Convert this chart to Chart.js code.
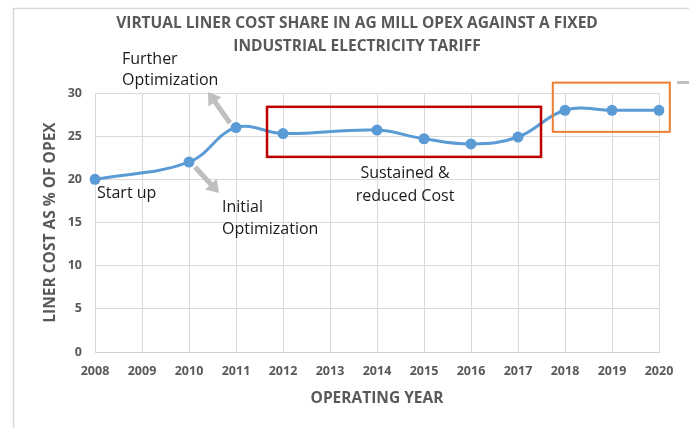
<!DOCTYPE html>
<html>
<head>
<meta charset="utf-8">
<script src="https://cdn.jsdelivr.net/npm/chart.js@4.4.1/dist/chart.umd.min.js"></script>
<style>
html, body { margin: 0; padding: 0; background: #fff; }
#wrap { position: relative; width: 689px; height: 428px; }
</style>
</head>
<body>
<div id="wrap"><canvas id="canvas1" width="689" height="428"></canvas></div>
<script>
// chart values
var years = ["2008", "2009", "2010", "2011", "2012", "2013", "2014", "2015", "2016", "2017", "2018", "2019", "2020"];
var linerCostShare = [20, null, 22, 26, 25.3, null, 25.7, 24.7, 24.1, 24.9, 28, 28, 28];
var yTickValues = [0, 5, 10, 15, 20, 25, 30];
var titleLines = ["VIRTUAL LINER COST SHARE IN AG MILL OPEX AGAINST A FIXED", "INDUSTRIAL ELECTRICITY TARIFF"];
var yAxisTitle = "LINER COST AS % OF OPEX";
var xAxisTitle = "OPERATING YEAR";

var Graphs = {

	font: "'Open Sans', 'DejaVu Sans', sans-serif",
	grey: "#595959",
	blue: "#5b9bd5",

	init: function(){
		var lineGraphValues = Graphs.setLineGraphValues();
		Graphs.generateLineGraph(lineGraphValues);
	},

	setLineGraphValues: function(){
		var lineChartData = {
			labels: years,
			datasets: [{
				label: '',
				data: linerCostShare,
				spanGaps: true,
				fill: false,
				tension: 0.4,
				borderColor: Graphs.blue,
				borderWidth: 3,
				pointRadius: 5.5,
				pointBackgroundColor: Graphs.blue,
				pointBorderColor: Graphs.blue,
				pointBorderWidth: 0
			}]
		};

		return lineChartData;
	},

	arrow: function(ctx, x1, y1, x2, y2){
		var ang = Math.atan2(y2 - y1, x2 - x1);
		var len = Math.sqrt((x2 - x1) * (x2 - x1) + (y2 - y1) * (y2 - y1));
		ctx.save();
		ctx.translate(x1, y1);
		ctx.rotate(ang);
		ctx.fillStyle = "#bfbfbf";
		ctx.beginPath();
		ctx.moveTo(0, -2.5);
		ctx.lineTo(len - 12, -2.5);
		ctx.lineTo(len - 12, -8);
		ctx.lineTo(len, 0);
		ctx.lineTo(len - 12, 8);
		ctx.lineTo(len - 12, 2.5);
		ctx.lineTo(0, 2.5);
		ctx.closePath();
		ctx.fill();
		ctx.restore();
	},

	// frame, title, boxes, arrows and notes drawn on top of the chart
	notes: {
		id: 'notes',
		afterDraw: function(chart){
			var ctx = chart.ctx;
			var x = chart.scales.x, y = chart.scales.y;
			ctx.save();

			// outer frame (only top and left edges show)
			ctx.strokeStyle = "#d9d9d9";
			ctx.lineWidth = 1.5;
			ctx.beginPath();
			ctx.moveTo(689, 8.5);
			ctx.lineTo(13.5, 8.5);
			ctx.lineTo(13.5, 428);
			ctx.stroke();

			// title
			ctx.fillStyle = Graphs.grey;
			ctx.font = "bold 15.5px " + Graphs.font;
			ctx.textAlign = "center";
			ctx.textBaseline = "middle";
			ctx.fillText(titleLines[0], 357, 24);
			ctx.fillText(titleLines[1], 357, 47);

			// red box round the sustained years
			ctx.strokeStyle = "#c00000";
			ctx.lineWidth = 2.5;
			var rx1 = x.getPixelForValue(3.66), rx2 = x.getPixelForValue(9.49);
			var ry1 = y.getPixelForValue(28.4), ry2 = y.getPixelForValue(22.6);
			ctx.strokeRect(rx1, ry1, rx2 - rx1, ry2 - ry1);

			// orange box round the last years
			ctx.strokeStyle = "#ed7d31";
			ctx.lineWidth = 2;
			var ox1 = x.getPixelForValue(9.74), ox2 = x.getPixelForValue(12.23);
			var oy1 = y.getPixelForValue(31.2), oy2 = y.getPixelForValue(25.5);
			ctx.strokeRect(ox1, oy1, ox2 - ox1, oy2 - oy1);

			// little grey dash at the right edge
			ctx.strokeStyle = "#bfbfbf";
			ctx.lineWidth = 3;
			ctx.beginPath();
			ctx.moveTo(677, 82.5);
			ctx.lineTo(689, 82.5);
			ctx.stroke();

			// arrows
			Graphs.arrow(ctx, 230, 123, 208, 92);
			Graphs.arrow(ctx, 195, 167, 219, 193);

			// notes
			ctx.fillStyle = "#1a1a1a";
			ctx.font = "16px " + Graphs.font;
			ctx.textAlign = "left";
			ctx.fillText("Further", 122, 59);
			ctx.fillText("Optimization", 122, 80);
			ctx.fillText("Start up", 97, 193);
			ctx.fillText("Initial", 222, 207);
			ctx.fillText("Optimization", 222, 229);
			ctx.textAlign = "center";
			ctx.fillText("Sustained &", 405, 173);
			ctx.fillText("reduced Cost", 405, 196);

			ctx.restore();
		}
	},

	generateLineGraph: function(graphValues){
		var ctx = document.getElementById("canvas1").getContext("2d");
		window.myLine = new Chart(ctx, {
			type: 'line',
			data: graphValues,
			plugins: [Graphs.notes],
			options: {
				responsive: false,
				animation: false,
				devicePixelRatio: 1,
				layout: {
					padding: { top: 93, right: 30, left: 0, bottom: 0 }
				},
				plugins: {
					legend: { display: false },
					tooltip: { enabled: false },
					title: { display: false }
				},
				scales: {
					x: {
						type: 'category',
						offset: false,
						afterFit: function(scale){ scale.height = 76; },
						grid: { color: "#d9d9d9", drawTicks: false },
						border: { color: "#d0d0d0" },
						ticks: {
							color: Graphs.grey,
							font: { family: Graphs.font, size: 12.5, weight: 'bold' },
							padding: 12,
							maxRotation: 0,
							autoSkip: false
						},
						title: {
							display: true,
							text: xAxisTitle,
							color: Graphs.grey,
							font: { family: Graphs.font, size: 15.5, weight: 'bold' },
							padding: { top: 0, bottom: 20 }
						}
					},
					y: {
						min: 0,
						max: 30,
						afterFit: function(scale){ scale.width = 95; },
						afterBuildTicks: function(scale){
							scale.ticks = yTickValues.map(function(v){ return { value: v }; });
						},
						grid: { color: "#d9d9d9", drawTicks: false },
						border: { color: "#d9d9d9" },
						ticks: {
							color: Graphs.grey,
							font: { family: Graphs.font, size: 12.5, weight: 'bold' },
							padding: 13
						},
						title: {
							display: true,
							text: yAxisTitle,
							color: Graphs.grey,
							font: { family: Graphs.font, size: 15.5, weight: 'bold' },
							padding: { top: 41, bottom: 0 }
						}
					}
				}
			}
		});
	}
};

Graphs.init();
</script>
</body>
</html>
